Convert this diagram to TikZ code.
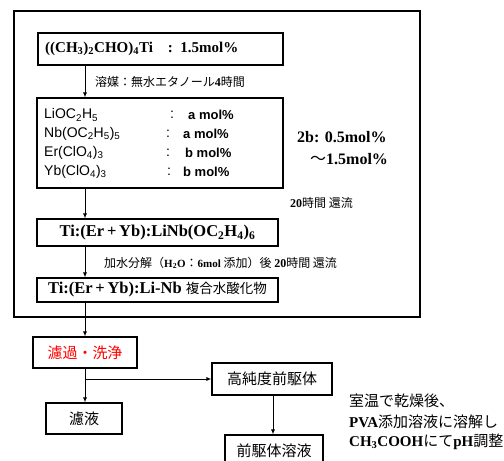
\documentclass[tikz,border=0pt]{standalone}
\usepackage{fontspec}
\setmainfont{Liberation Serif}
\newfontfamily\jp{Noto Sans CJK JP}
\newfontfamily\ar{Liberation Sans}
\usetikzlibrary{arrows.meta}
\begin{document}
\begin{tikzpicture}[x=1pt,y=-1pt,
  box/.style={draw, line width=1.1pt, inner sep=0pt},
  arr/.style={-{Latex[length=5pt,width=4pt]}, line width=0.9pt},
  lbl/.style={inner sep=0pt, anchor=west},
  chem/.style={lbl, font=\ar\fontsize{14}{16}\selectfont},
  small/.style={lbl, font=\jp\fontsize{12}{14}\selectfont},
  big/.style={font=\bfseries\fontsize{16.5}{18}\selectfont},
  jbig/.style={font=\jp\fontsize{15}{18}\selectfont}]
\useasboundingbox (0,0) rectangle (504,461);
% outer frame
\node[box, line width=1.4pt, minimum width=406pt, minimum height=306pt] (outer) at (217,164) {};
% box 1
\node[box, minimum width=245pt, minimum height=32pt] (b1) at (160.5,49) {};
\node[lbl, font=\bfseries\fontsize{15}{17}\selectfont] (t1) at (45,49) {((CH\textsubscript{3})\textsubscript{2}CHO)\textsubscript{4}Ti\quad:\ \ 1.5mol\%};
\coordinate (ax) at (85,0);
% box 2
\node[box, minimum width=246pt, minimum height=90pt] (b2) at (160,143) {};
\draw[arr] (b1.south -| ax) -- (b2.north -| ax);
\node[small] (l1) at (95,82) {溶媒：無水エタノール{\rmfamily\bfseries 4}時間};
\node[chem] (c1) at (44,115) {LiOC\textsubscript{2}H\textsubscript{5}};
\node[chem] (c2) at (44,134) {Nb(OC\textsubscript{2}H\textsubscript{5})\textsubscript{5}};
\node[chem] (c3) at (44,153) {Er(ClO\textsubscript{4})\textsubscript{3}};
\node[chem] (c4) at (44,172) {Yb(ClO\textsubscript{4})\textsubscript{3}};
\node[chem] (k1) at (170,115) {:};
\node[chem] (k2) at (166,134) {:};
\node[chem] (k3) at (166,153) {:};
\node[chem] (k4) at (167,172) {:};
\node[chem, font=\ar\bfseries\fontsize{13}{16}\selectfont] (v1) at (188,115) {a mol\%};
\node[chem, font=\ar\bfseries\fontsize{13}{16}\selectfont] (v2) at (183,134) {a mol\%};
\node[chem, font=\ar\bfseries\fontsize{13}{16}\selectfont] (v3) at (185,153) {b mol\%};
\node[chem, font=\ar\bfseries\fontsize{13}{16}\selectfont] (v4) at (183,172) {b mol\%};
% 2b note
\node[lbl, font=\bfseries\fontsize{16}{18}\selectfont] (n1) at (297,137) {2b: 0.5mol\%};
\node[lbl, font=\bfseries\fontsize{16}{18}\selectfont] (n2) at (310,159) {{\jp\mdseries ～}1.5mol\%};
\node[small] (l2) at (290,203) {{\rmfamily\bfseries 20}時間 還流};
% box 3
\node[box, big, minimum width=241pt, minimum height=27pt] (b3) at (157.5,232.5) {Ti:(Er\,+\,Yb):LiNb(OC\textsubscript{2}H\textsubscript{4})\textsubscript{6}};
\draw[arr] (b2.south -| ax) -- (b3.north -| ax);
% box 4
\node[box, big, minimum width=241pt, minimum height=24pt] (b4) at (157.5,290) {Ti:(Er\,+\,Yb):Li-Nb {\jp\mdseries\fontsize{13.5}{15}\selectfont 複合水酸化物}};
\draw[arr] (b3.south -| ax) -- (b4.north -| ax);
\node[small] (l3) at (104,263) {加水分解（{\rmfamily\bfseries\fontsize{11}{13}\selectfont H\textsubscript{2}O}：{\rmfamily\bfseries\fontsize{11}{13}\selectfont 6mol} 添加）後 {\rmfamily\bfseries 20}時間 還流};
% lower part
\node[box, jbig, text=red, minimum width=104pt, minimum height=31pt] (filt) at (85,352.5) {濾過・洗浄};
\draw[arr] (b4.south -| ax) -- (filt.north -| ax);
\node[box, jbig, minimum width=76pt, minimum height=31pt] (fl) at (84,418.5) {濾液};
\node[box, jbig, minimum width=120pt, minimum height=32pt] (hp) at (272,379) {高純度前駆体};
\coordinate (br) at (85,379);
\draw[arr] (filt.south -| ax) -- (fl.north -| ax);
\draw[arr] (br) -- (hp.west);
\coordinate (bx) at (273,0);
\node[box, jbig, minimum width=98pt, minimum height=32pt] (ps) at (274,451) {前駆体溶液};
\draw[arr] (hp.south -| bx) -- (ps.north -| bx);
% right note
\node[lbl, jbig] (r1) at (349,401) {室温で乾燥後、};
\node[lbl, jbig] (r2) at (349,422) {{\rmfamily\bfseries PVA}添加溶液に溶解し};
\node[lbl, jbig] (r3) at (349,442) {{\rmfamily\bfseries CH\textsubscript{3}COOH}にて{\rmfamily\bfseries pH}調整};
\end{tikzpicture}
\end{document}
